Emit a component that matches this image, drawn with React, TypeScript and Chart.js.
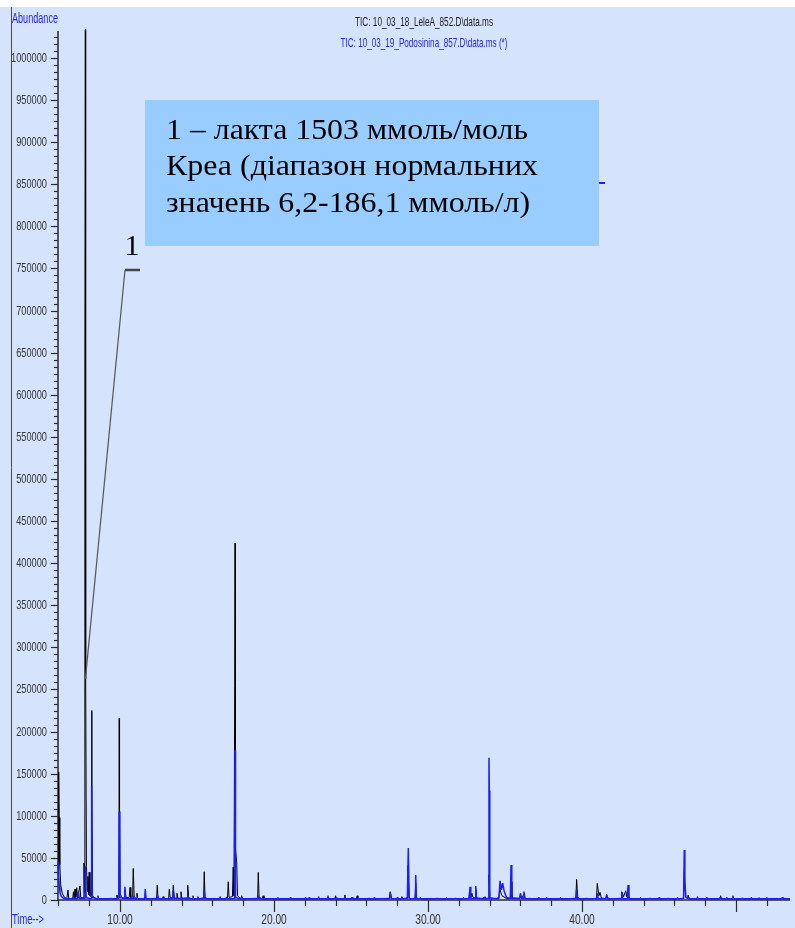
import { useEffect, useRef } from "react";
import { Chart, registerables } from "chart.js";

Chart.register(...registerables);

// ---- data (retention time in minutes, abundance) ----
const blackTrace: [number, number][] = [
  [5.98, 20000], [6.02, 152000], [6.05, 98000], [6.09, 42000], [6.15, 18000], [6.25, 8000], [6.4, 3000], [6.55, 1500],
  [6.62, 11800], [6.68, 1500], [6.93, 2000], [6.98, 9800], [7.02, 2000], [7.08, 13000], [7.13, 3000], [7.19, 14600],
  [7.24, 3000], [7.4, 16600], [7.45, 3000], [7.6, 2500], [7.66, 44000], [7.69, 8000], [7.72, 640000], [7.75, 1034000],
  [7.77, 262000], [7.82, 40000], [7.88, 10000], [7.92, 28000], [7.96, 6000], [8.0, 33000], [8.05, 5000], [8.13, 4000],
  [8.16, 225000], [8.18, 105000], [8.22, 5000], [8.35, 2500], [8.52, 1500], [8.57, 5000], [8.63, 1500], [9.0, 1500],
  [9.35, 1500], [9.4, 2500], [9.45, 1500], [9.75, 1500], [9.8, 6000], [9.86, 1500], [9.93, 3000], [9.95, 216000],
  [9.97, 90000], [10.01, 8000], [10.1, 3000], [10.28, 2000], [10.32, 12000], [10.38, 3000], [10.6, 3000], [10.65, 15000],
  [10.7, 3000], [10.82, 4000], [10.86, 37500], [10.92, 4000], [11.05, 2000], [11.1, 8000], [11.15, 1500], [11.6, 1500],
  [11.64, 4000], [11.7, 1500], [12.38, 2000], [12.42, 17800], [12.47, 2000], [12.75, 1500], [12.8, 4000], [12.85, 1500],
  [13.16, 2000], [13.2, 12600], [13.26, 2500], [13.42, 2500], [13.46, 17800], [13.52, 2500], [13.66, 2000], [13.7, 8000],
  [13.76, 2000], [13.92, 2000], [13.96, 9800], [14.02, 2000], [14.36, 2500], [14.4, 17800], [14.46, 2500], [14.7, 1500],
  [14.74, 5000], [14.8, 1500], [15.02, 1500], [15.06, 4000], [15.12, 1500], [15.43, 2500], [15.47, 33500], [15.52, 3000],
  [15.7, 1500], [16.45, 1500], [16.5, 4000], [16.56, 1500], [16.86, 1500], [16.9, 3500], [16.98, 2500], [17.03, 21700],
  [17.08, 3000], [17.3, 4000], [17.35, 39000], [17.4, 5000], [17.45, 255000], [17.47, 424000], [17.5, 60000], [17.58, 44000],
  [17.63, 5000], [17.85, 1500], [17.9, 5000], [17.96, 1500], [18.94, 2000], [18.98, 32800], [19.03, 3000], [19.25, 1500],
  [19.29, 5000], [19.35, 1500], [20.2, 1500], [20.25, 3000], [20.3, 1500], [21.0, 1500], [21.05, 3000], [21.1, 1500],
  [22.0, 1500], [22.05, 3500], [22.1, 1500], [22.85, 1500], [22.9, 4000], [22.95, 1500], [23.95, 1500], [24.0, 5000],
  [24.05, 1500], [24.55, 1500], [24.6, 6000], [24.65, 1500], [25.0, 1500], [25.05, 3000], [25.1, 1500], [25.35, 1500],
  [25.4, 5000], [25.45, 1500], [26.45, 1500], [26.5, 3000], [26.55, 1500], [27.5, 2000], [27.55, 9800], [27.62, 2000],
  [27.95, 1500], [28.0, 3000], [28.05, 1500], [28.25, 1500], [28.3, 4000], [28.35, 1500], [28.64, 2500], [28.7, 41000],
  [28.76, 5000], [28.82, 1500], [29.15, 2000], [29.2, 20000], [29.26, 2000], [29.45, 1500], [29.5, 3000], [29.55, 1500],
  [30.55, 1500], [30.6, 2500], [30.65, 1500], [31.15, 1500], [31.2, 3000], [31.25, 1500], [31.75, 1500], [31.8, 2500],
  [31.85, 1500], [32.25, 1500], [32.3, 3000], [32.35, 1500], [32.66, 2000], [32.7, 12000], [32.78, 3000], [32.85, 8000],
  [32.92, 3000], [33.06, 2500], [33.1, 12000], [33.16, 2500], [33.55, 1500], [33.6, 3000], [33.65, 1500], [33.7, 4000],
  [33.75, 1500], [33.93, 2000], [33.96, 30000], [34.02, 2500], [34.45, 1500], [34.5, 2500], [34.6, 2000], [34.68, 12000],
  [34.8, 5000], [35.0, 3000], [35.1, 1500], [35.34, 2000], [35.39, 21700], [35.45, 2500], [35.95, 2000], [36.0, 6000],
  [36.1, 2500], [36.23, 7000], [36.3, 2000], [36.55, 1500], [36.6, 2500], [36.65, 1500], [37.15, 1500], [37.2, 3000],
  [37.25, 1500], [37.65, 1500], [37.7, 3000], [37.75, 1500], [38.55, 1500], [38.6, 3000], [38.65, 1500], [39.6, 2000],
  [39.65, 24500], [39.72, 4000], [39.8, 1500], [40.25, 1500], [40.3, 2500], [40.35, 1500], [40.94, 2000], [40.99, 19700],
  [41.1, 5000], [41.17, 9000], [41.25, 2500], [41.55, 1500], [41.6, 7000], [41.7, 1500], [42.54, 2000], [42.58, 9800],
  [42.7, 4000], [42.84, 11000], [42.9, 4000], [42.99, 14000], [43.06, 2000], [43.15, 1500], [43.75, 1500], [43.8, 3000],
  [43.85, 1500], [44.35, 1500], [44.4, 2500], [44.45, 1500], [44.95, 1500], [45.0, 3000], [45.05, 1500], [45.55, 1500],
  [45.6, 2500], [45.65, 1500], [46.15, 1500], [46.2, 3000], [46.25, 1500], [46.58, 2000], [46.64, 33500], [46.72, 4000],
  [46.85, 2000], [46.9, 6000], [46.96, 1500], [47.45, 1500], [47.5, 4000], [47.55, 1500], [48.05, 1500], [48.1, 3500],
  [48.15, 1500], [48.95, 1500], [49.0, 5000], [49.05, 1500], [49.35, 1500], [49.4, 3500], [49.45, 1500], [49.75, 1500],
  [49.8, 5000], [49.85, 1500], [50.35, 1500], [50.4, 2500], [50.45, 1500], [50.95, 1500], [51.0, 3500], [51.05, 1500],
  [51.95, 1500], [52.0, 3000], [52.05, 1500], [52.95, 1500], [53.0, 3500], [53.05, 1500], [53.5, 1500],
];

const blueTrace: [number, number][] = [
  [5.975, 45000], [6.0, 30000], [6.05, 18000], [6.1, 9000], [6.2, 4000], [6.35, 2000], [6.6, 1500], [7.0, 1500],
  [7.25, 1800], [7.3, 9800], [7.36, 1800], [7.72, 1800], [7.76, 40000], [7.8, 3000], [8.0, 1800], [8.13, 1800],
  [8.16, 136000], [8.19, 3000], [8.5, 1500], [9.5, 1500], [9.92, 1800], [9.95, 105000], [9.99, 3000], [10.28, 1800],
  [10.32, 15800], [10.37, 1800], [10.82, 1500], [10.86, 5000], [10.9, 1500], [11.6, 1500], [11.64, 13000], [11.69, 1500],
  [12.38, 1500], [12.42, 5000], [12.46, 1500], [13.42, 1500], [13.46, 11800], [13.52, 1800], [14.36, 1500], [14.4, 6000],
  [14.45, 1500], [15.43, 1500], [15.47, 11800], [15.52, 1500], [16.5, 1500], [17.44, 1800], [17.47, 178000], [17.5, 3000],
  [17.8, 1500], [18.94, 1500], [18.98, 5000], [19.05, 1500], [22.25, 1500], [22.3, 3000], [22.35, 1500], [23.45, 1500],
  [23.5, 5000], [23.55, 1500], [24.05, 1500], [24.1, 2500], [24.15, 1500], [25.05, 1500], [25.1, 3000], [25.15, 1500],
  [26.15, 1500], [26.2, 2000], [26.25, 1500], [27.5, 1500], [27.55, 9000], [27.62, 1500], [28.66, 1800], [28.72, 61600],
  [28.78, 1800], [29.16, 1500], [29.2, 29600], [29.25, 1500], [32.68, 1800], [32.73, 15800], [32.78, 1800], [33.06, 1800],
  [33.1, 16600], [33.15, 1800], [33.93, 1800], [33.96, 169000], [33.98, 130000], [34.01, 1800], [34.6, 1800], [34.68, 22800],
  [34.76, 12000], [34.85, 20000], [34.95, 10000], [35.1, 3000], [35.35, 1800], [35.39, 41500], [35.44, 1800], [35.96, 1800],
  [36.0, 8000], [36.08, 1800], [36.18, 1800], [36.23, 10000], [36.3, 1500], [37.65, 1500], [37.7, 2500], [37.75, 1500],
  [39.6, 1500], [39.65, 12000], [39.7, 1500], [40.95, 1500], [40.99, 8000], [41.05, 1500], [41.55, 1500], [41.6, 5000],
  [41.68, 1500], [42.54, 1500], [42.58, 9000], [42.65, 1500], [42.95, 1500], [42.99, 17800], [43.05, 1500], [46.6, 1800],
  [46.64, 59400], [46.68, 20000], [46.75, 3000], [47.0, 1500], [48.95, 1500], [49.0, 3000], [49.05, 1500], [51.45, 1500],
  [51.5, 2500], [51.55, 1500], [53.5, 1500],
];

const blackTitle = "TIC: 10_03_18_LeleA_852.D\\data.ms";
const blueTitle = "TIC: 10_03_19_Podosinina_857.D\\data.ms (*)";
const yAxisTitle = "Abundance";
const xAxisTitle = "Time-->";
const xTickValues = [10, 20, 30, 40];
const xTickLabels = ["10.00", "20.00", "30.00", "40.00"];
const yTickStep = 50000;
const peakLabel = "1";
const peakPoint: [number, number] = [7.75, 262000];
const noteLines = [
  "1 – лакта 1503 ммоль/моль",
  "Креа (діапазон нормальних",
  "значень 6,2-186,1 ммоль/л)",
];

// ---- styling ----
const BG = "#d5e3fc";
const BLUE = "#1c1cff";
const TEXT_BLUE = "#2626e6";
const SANS = '"Liberation Sans", Arial, sans-serif';
const SERIF = '"Liberation Serif", "Times New Roman", serif';

function drawScaled(
  ctx: CanvasRenderingContext2D, text: string, x: number, y: number, sx: number,
  font: string, color: string, align: CanvasTextAlign, baseline: CanvasTextBaseline = "middle"
) {
  ctx.save();
  ctx.font = font;
  ctx.fillStyle = color;
  ctx.textAlign = align;
  ctx.textBaseline = baseline;
  ctx.translate(x, y);
  ctx.scale(sx, 1);
  ctx.fillText(text, 0, 0);
  ctx.restore();
}

function fitScale(ctx: CanvasRenderingContext2D, text: string, font: string, width: number) {
  ctx.save();
  ctx.font = font;
  const w = ctx.measureText(text).width;
  ctx.restore();
  return w > 0 ? width / w : 1;
}

const chromPlugin = {
  id: "chrom",
  beforeDraw(chart: any) {
    const { ctx, width, height } = chart;
    ctx.save();
    ctx.fillStyle = "#ffffff";
    ctx.fillRect(0, 0, width, height);
    ctx.fillStyle = BG;
    ctx.fillRect(0, 7, width, height - 7);
    ctx.strokeStyle = "#4a4a4a";
    ctx.lineWidth = 1;
    ctx.beginPath();
    ctx.moveTo(11.5, 7);
    ctx.lineTo(11.5, height);
    ctx.stroke();
    ctx.restore();

    const hf = `13px ${SANS}`;
    drawScaled(ctx, blackTitle, 424, 22, fitScale(ctx, blackTitle, hf, 138), hf, "#1a1a1a", "center");
    drawScaled(ctx, blueTitle, 424, 43, fitScale(ctx, blueTitle, hf, 167), hf, TEXT_BLUE, "center");
    const af = `14px ${SANS}`;
    drawScaled(ctx, yAxisTitle, 12, 19, fitScale(ctx, yAxisTitle, af, 46), af, TEXT_BLUE, "left");
    const tf = `15px ${SANS}`;
    drawScaled(ctx, xAxisTitle, 12, 920, fitScale(ctx, xAxisTitle, tf, 32), tf, TEXT_BLUE, "left");
  },
  beforeDatasetsDraw(chart: any) {
    const { ctx, chartArea } = chart;
    const xs = chart.scales.x;
    const ys = chart.scales.y;
    const left = chartArea.left;
    const right = chartArea.right;
    const y0 = ys.getPixelForValue(0);
    const yTop = ys.getPixelForValue(ys.max);
    ctx.save();
    ctx.strokeStyle = "#2a2a2a";
    ctx.lineWidth = 1.5;
    ctx.beginPath();
    ctx.moveTo(left, yTop);
    ctx.lineTo(left, y0);
    ctx.stroke();
    const minorPer = 6;
    const nMinor = Math.floor((ys.max / yTickStep) * minorPer);
    ctx.lineWidth = 1.2;
    const lf = `13px ${SANS}`;
    for (let i = 0; i <= nMinor; i++) {
      const v = (i * yTickStep) / minorPer;
      const py = Math.round(ys.getPixelForValue(v)) + 0.5;
      const major = i % minorPer === 0;
      ctx.beginPath();
      ctx.moveTo(left - (major ? 7 : 4), py);
      ctx.lineTo(left, py);
      ctx.stroke();
      if (major) {
        drawScaled(ctx, String(v), left - 11, py, 0.71, lf, "#333333", "right");
      }
    }
    ctx.lineWidth = 1.5;
    ctx.beginPath();
    ctx.moveTo(left, y0);
    ctx.lineTo(right, y0);
    ctx.stroke();
    ctx.lineWidth = 1.2;
    for (let t = 6; t <= xs.max; t += 2) {
      const px = Math.round(xs.getPixelForValue(t)) + 0.5;
      const major = t % 10 === 0;
      ctx.beginPath();
      ctx.moveTo(px, y0);
      ctx.lineTo(px, y0 + (major ? 12 : 6));
      ctx.stroke();
    }
    const xf = `15px ${SANS}`;
    xTickValues.forEach((t, i) => {
      drawScaled(ctx, xTickLabels[i], xs.getPixelForValue(t), 920, 0.68, xf, "#333333", "center");
    });
    ctx.restore();
  },
  afterDraw(chart: any) {
    const { ctx } = chart;
    const xs = chart.scales.x;
    const ys = chart.scales.y;
    ctx.save();
    ctx.fillStyle = "#99ccff";
    ctx.fillRect(145, 100, 454, 146);
    const nf = `30px ${SERIF}`;
    const widths = [362, 372, 364];
    noteLines.forEach((line, i) => {
      drawScaled(ctx, line, 166, 138.5 + i * 36.7, fitScale(ctx, line, nf, widths[i]), nf, "#000000", "left", "alphabetic");
    });
    ctx.strokeStyle = BLUE;
    ctx.lineWidth = 2;
    ctx.beginPath();
    ctx.moveTo(599, 183);
    ctx.lineTo(605, 183);
    ctx.stroke();
    drawScaled(ctx, peakLabel, 132, 255, 1, nf, "#000000", "center", "alphabetic");
    ctx.strokeStyle = "#444444";
    ctx.lineWidth = 2.5;
    ctx.beginPath();
    ctx.moveTo(125, 270);
    ctx.lineTo(140, 270);
    ctx.stroke();
    ctx.strokeStyle = "#555555";
    ctx.lineWidth = 1.2;
    ctx.beginPath();
    ctx.moveTo(125, 270);
    ctx.lineTo(xs.getPixelForValue(peakPoint[0]), ys.getPixelForValue(peakPoint[1]));
    ctx.stroke();
    ctx.restore();
  },
};

export default function App() {
  const ref = useRef<HTMLCanvasElement>(null);
  useEffect(() => {
    const canvas = ref.current;
    if (!canvas) return;
    const chart = new Chart(canvas, {
      type: "line",
      data: {
        datasets: [
          {
            label: blueTitle,
            data: blueTrace.map(([x, y]) => ({ x, y })),
            borderColor: BLUE,
            borderWidth: 1.5,
            pointRadius: 0,
            tension: 0,
            fill: false,
            clip: false as any,
            borderJoinStyle: "bevel",
          },
          {
            label: blackTitle,
            data: blackTrace.map(([x, y]) => ({ x, y })),
            borderColor: "#000000",
            borderWidth: 1,
            pointRadius: 0,
            tension: 0,
            fill: false,
            clip: false as any,
            borderJoinStyle: "bevel",
          },
        ],
      },
      options: {
        responsive: false,
        animation: false,
        devicePixelRatio: 1,
        events: [],
        layout: { padding: { left: 58, right: 5, top: 31, bottom: 28 } },
        scales: {
          x: { type: "linear", min: 5.974, max: 53.506, display: false },
          y: { type: "linear", min: 0, max: 1032000, display: false },
        },
        plugins: { legend: { display: false }, tooltip: { enabled: false } },
      },
      plugins: [chromPlugin],
    });
    return () => chart.destroy();
  }, []);
  return (
    <div style={{ position: "absolute", left: 0, top: 0, width: 795, height: 928, overflow: "hidden" }}>
      <canvas ref={ref} width={795} height={928} style={{ display: "block", width: 795, height: 928 }} />
    </div>
  );
}
